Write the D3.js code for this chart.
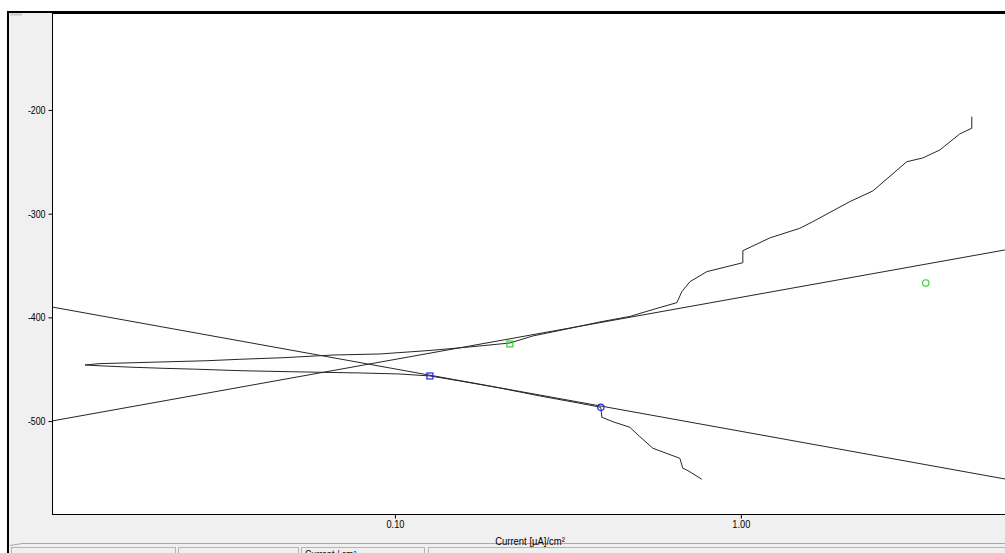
<!DOCTYPE html>
<html><head><meta charset="utf-8">
<script src="https://cdn.jsdelivr.net/npm/d3@7"></script>
<style>html,body{margin:0;padding:0;background:#fff;overflow:hidden}</style>
</head><body><svg id="c" width="1005" height="553"></svg>
<script>
// ---- data ----
const xTickValues = [0.1, 1];
const xTickLabels = ["0.10", "1.00"];
const yTickValues = [-200, -300, -400, -500];
const yTickLabels = ["-200", "-300", "-400", "-500"];
const xLabel = "Current [µA]/cm²";
const statusText = "Current / cm²";

// measured polarization curve (current µA/cm², potential mV), cathodic end -> anodic end
const measCurrent = [0.7716,0.6983,0.6798,0.6663,0.5567,0.5106,0.4777,0.4267,0.3964,0.3938,0.3424,0.2625,0.2011,0.1541,0.1262,0.1034,0.07921,0.0607,0.04971,0.03565,0.02677,0.02136,0.01749,0.01404,0.01271,
  0.01404,0.01958,0.02861,0.03565,0.04746,0.06619,0.0905,0.1262,0.1647,0.2150,0.2505,0.2998,0.3913,0.4777,0.5640,0.6531,0.6752,0.7124,0.7974,1.0134,1.0134,1.2128,1.4808,1.6148,2.0654,2.4075,3.0184,3.3574,3.7593,4.2954,4.6524,4.6524];
const measPotential = [-556.1,-547.2,-545.5,-535.9,-526.2,-515.0,-506.0,-500.6,-496.3,-486.7,-482.8,-475.8,-468.1,-461.3,-456.5,-454.6,-453.6,-452.9,-452.4,-451.4,-450.0,-449.1,-448.1,-446.7,-445.9,
  -444.6,-443.3,-441.8,-440.4,-438.9,-436.3,-435.3,-431.9,-428.5,-424.7,-417.9,-412.6,-404.4,-399.1,-391.9,-385.8,-375.2,-365.6,-355.9,-347.3,-335.7,-323.4,-314.1,-307.7,-288.4,-278.1,-249.9,-246.3,-238.6,-223.1,-217.6,-206.5];

// Tafel fit lines
const anodicFitCurrent = [0.0102, 6.0];
const anodicFitPotential = [-499.9, -334.1];
const cathodicFitCurrent = [0.0102, 6.0];
const cathodicFitPotential = [-390.0, -556.7];

// fit-range markers
const markerCurrent = [0.2150, 0.1262, 0.3938, 3.4253];
const markerPotential = [-425.6, -456.5, -486.7, -366.8];
const markerShape = ["square", "square", "circle", "circle"];
const markerBranch = ["anodic", "cathodic", "cathodic", "anodic"];

// ---- drawing ----
const W = 1005, H = 553;
const plot = {left: 52, top: 13, right: 1010, bottom: 514};
const svg = d3.select("#c");
const FONT = "'Liberation Sans',Arial,sans-serif";
const branchColor = {anodic: "#2fd22f", cathodic: "#2424e6"};

// narrow the glyphs like the original condensed UI font
function condense(sel, k) {
  sel.each(function() {
    const w = this.getComputedTextLength();
    if (w > 0) d3.select(this).attr("textLength", w * k).attr("lengthAdjust", "spacingAndGlyphs");
  });
}

// window background / frame
svg.append("rect").attr("x",0).attr("y",0).attr("width",W).attr("height",H).attr("fill","#fff");
svg.append("rect").attr("x",8).attr("y",12).attr("width",1100).attr("height",600)
  .attr("fill","#f0f0f0").attr("stroke","#000").attr("stroke-width",2);
svg.append("line").attr("x1",10).attr("x2",22).attr("y1",14.5).attr("y2",14.5).attr("stroke","#c8c8c8").attr("stroke-width",2);

// status bar
svg.append("line").attr("x1",22).attr("x2",W).attr("y1",543.5).attr("y2",543.5).attr("stroke","#a8a8a8");
svg.append("line").attr("x1",10).attr("x2",22).attr("y1",545.5).attr("y2",543.5).attr("stroke","#a8a8a8");
const panels = [[11,175],[178,298],[301,424],[428,1010]];
svg.selectAll("rect.panel").data(panels).enter().append("rect").attr("class","panel")
  .attr("x",d=>d[0]+0.5).attr("y",547.5).attr("width",d=>d[1]-d[0]).attr("height",20)
  .attr("fill","#f0f0f0").attr("stroke","#b4b4b4");
svg.append("text").attr("x",305).attr("y",558).attr("font-family",FONT).attr("font-size",10)
  .attr("fill","#000").text(statusText).call(condense, 0.88);

// plot area
svg.append("rect").attr("x",plot.left+0.5).attr("y",plot.top+0.5)
  .attr("width",plot.right-plot.left).attr("height",plot.bottom-plot.top)
  .attr("fill","#fff").attr("stroke","#000").attr("stroke-width",1);

const x = d3.scaleLog().domain([0.0102, 6.0]).range([plot.left, plot.right]);
const y = d3.scaleLinear().domain([-589.6, -106.5]).range([plot.bottom, plot.top]);

svg.append("defs").append("clipPath").attr("id","clip").append("rect")
  .attr("x",plot.left+1).attr("y",plot.top+1).attr("width",plot.right-plot.left).attr("height",plot.bottom-plot.top-1);
const g = svg.append("g").attr("clip-path","url(#clip)");

const line = d3.line().x(d=>x(d[0])).y(d=>y(d[1]));
const lineStyle = sel => sel.attr("fill","none").attr("stroke","#262626").attr("stroke-width",1);

g.append("path").datum(d3.zip(anodicFitCurrent, anodicFitPotential)).attr("d",line).call(lineStyle);
g.append("path").datum(d3.zip(cathodicFitCurrent, cathodicFitPotential)).attr("d",line).call(lineStyle);
g.append("path").datum(d3.zip(measCurrent, measPotential)).attr("d",line).call(lineStyle);

const markers = markerCurrent.map((c,i)=>({c, p: markerPotential[i], shape: markerShape[i], branch: markerBranch[i]}));
g.selectAll("rect.mk").data(markers.filter(m=>m.shape==="square")).enter().append("rect").attr("class","mk")
  .attr("x",d=>x(d.c)-3).attr("y",d=>y(d.p)-3).attr("width",6).attr("height",6)
  .attr("fill","none").attr("stroke",d=>branchColor[d.branch]).attr("stroke-width",1.2);
g.selectAll("circle.mk").data(markers.filter(m=>m.shape==="circle")).enter().append("circle").attr("class","mk")
  .attr("cx",d=>x(d.c)).attr("cy",d=>y(d.p)).attr("r",3.2)
  .attr("fill","none").attr("stroke",d=>branchColor[d.branch]).attr("stroke-width",1.2);

// axes
const xAxis = d3.axisBottom(x).tickValues(xTickValues).tickFormat((d,i)=>xTickLabels[i]).tickSize(4).tickPadding(2);
const ax = svg.append("g").attr("transform",`translate(0,${plot.bottom+0.5})`).call(xAxis);
ax.select(".domain").remove();
ax.selectAll("text").attr("font-family",FONT).attr("font-size",11).attr("fill","#000").call(condense, 0.84);
ax.selectAll("line").attr("stroke","#000");

const yAxis = d3.axisLeft(y).tickValues(yTickValues).tickFormat((d,i)=>yTickLabels[i]).tickSize(4).tickPadding(3);
const ay = svg.append("g").attr("transform",`translate(${plot.left+0.5},0)`).call(yAxis);
ay.select(".domain").remove();
ay.selectAll("text").attr("font-family",FONT).attr("font-size",11).attr("fill","#000").call(condense, 0.8);
ay.selectAll("line").attr("stroke","#000");

svg.append("text").attr("x",530).attr("y",545).attr("text-anchor","middle")
  .attr("font-family",FONT).attr("font-size",11).attr("fill","#000").text(xLabel).call(condense, 0.86);
</script>
</body></html>
